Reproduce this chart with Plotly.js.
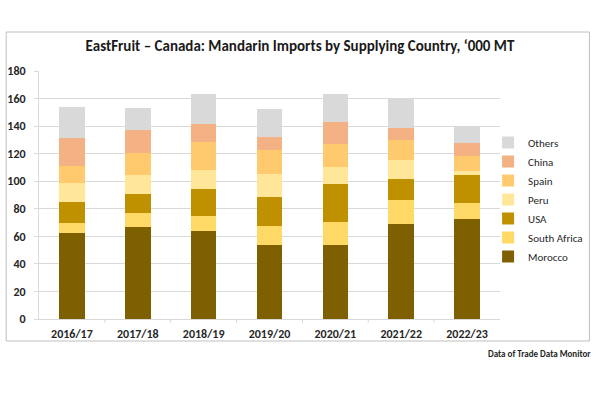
<!DOCTYPE html>
<html>
<head>
<meta charset="utf-8">
<script src="https://cdn.plot.ly/plotly-3.0.1.min.js"></script>
<style>
  html, body { margin: 0; padding: 0; background: #ffffff; }
  #chart { width: 600px; height: 393px; }
</style>
</head>
<body>
<div id="chart"></div>
<script>
const seasons = ["2016/17", "2017/18", "2018/19", "2019/20", "2020/21", "2021/22", "2022/23"];
const morocco     = [62.7, 67.0, 64.1, 53.7, 54.0, 68.7, 72.3];
const southAfrica = [6.7, 9.6, 10.4, 13.8, 16.1, 18.0, 12.0];
const usa         = [15.4, 13.8, 20.2, 20.9, 28.2, 15.2, 20.3];
const peru        = [14.0, 14.4, 13.7, 16.9, 11.8, 13.8, 3.1];
const spain       = [12.5, 15.7, 20.0, 17.6, 17.1, 13.9, 10.4];
const china       = [20.0, 16.8, 13.3, 9.1, 15.7, 9.0, 9.6];
const others      = [22.9, 16.2, 21.7, 20.3, 20.2, 21.6, 12.5];
const yTicks = [0, 20, 40, 60, 80, 100, 120, 140, 160, 180];

const series = [
  {name: "Morocco", y: morocco, color: "#7F6000"},
  {name: "South Africa", y: southAfrica, color: "#FFD966"},
  {name: "USA", y: usa, color: "#BF9000"},
  {name: "Peru", y: peru, color: "#FFE699"},
  {name: "Spain", y: spain, color: "#FFCA6E"},
  {name: "China", y: china, color: "#F4B183"},
  {name: "Others", y: others, color: "#D9D9D9"}
];

const traces = series.map(s => ({
  type: "bar",
  name: s.name,
  x: seasons,
  y: s.y,
  marker: {color: s.color, line: {width: 0}},
  hoverinfo: "name+y"
}));

const L = 39, R = 503, T = 71, B = 319;
const W = R - L, H = B - T;
const px = v => (v - L) / W;
const py = v => (B - v) / H;

const layout = {
  width: 600,
  height: 393,
  margin: {l: L, r: 600 - R, t: T, b: 393 - B, pad: 0},
  paper_bgcolor: "#ffffff",
  plot_bgcolor: "#ffffff",
  font: {family: "Carlito, Calibri, 'Open Sans', sans-serif", color: "#262626"},
  barmode: "stack",
  bargap: 0.61,
  title: {
    text: "<b>EastFruit – Canada: Mandarin Imports by Supplying Country, ‘000 MT</b>",
    font: {size: 15, color: "#1a1a1a"},
    x: 0.5, xref: "container", xanchor: "center",
    y: 1 - 46 / 393, yref: "container", yanchor: "middle"
  },
  xaxis: {
    type: "category",
    tickfont: {size: 12, color: "#262626", weight: "bold"},
    showline: true, linecolor: "#D9D9D9", linewidth: 1,
    ticks: "", showgrid: false,
    ticklabelstandoff: 4,
    fixedrange: true
  },
  yaxis: {
    range: [0, 180],
    tickvals: yTicks,
    ticktext: yTicks.map(String),
    tickfont: {size: 12, color: "#262626", weight: "bold"},
    showgrid: true, gridcolor: "#D9D9D9", gridwidth: 1,
    zeroline: false,
    showline: true, linecolor: "#D9D9D9", linewidth: 1,
    ticks: "outside", ticklen: 4, tickcolor: "#D9D9D9",
    ticklabelstandoff: 6,
    fixedrange: true
  },
  legend: {
    traceorder: "reversed",
    x: px(491), xanchor: "left",
    y: py(128), yanchor: "top",
    font: {size: 11, color: "#262626"},
    bgcolor: "rgba(0,0,0,0)",
    itemwidth: 30,
    tracegroupgap: 0
  },
  shapes: [{
    type: "rect", xref: "paper", yref: "paper",
    x0: px(6), x1: px(593), y0: py(341), y1: py(32),
    line: {color: "#BFBFBF", width: 1}, fillcolor: "rgba(0,0,0,0)", layer: "below"
  }].concat(seasons.slice(0, -1).map((s, i) => ({
    type: "line", xref: "x", yref: "paper",
    x0: i + 0.5, x1: i + 0.5, y0: 0, y1: py(323),
    line: {color: "#D9D9D9", width: 1}
  }))),
  annotations: [{
    text: "<b>Data of Trade Data Monitor</b>",
    xref: "paper", yref: "paper",
    x: px(597), y: py(353), xanchor: "right", yanchor: "middle",
    showarrow: false,
    font: {size: 9, color: "#262626"}
  }]
};

Plotly.newPlot("chart", traces, layout, {displayModeBar: false, staticPlot: true});
</script>
</body>
</html>
